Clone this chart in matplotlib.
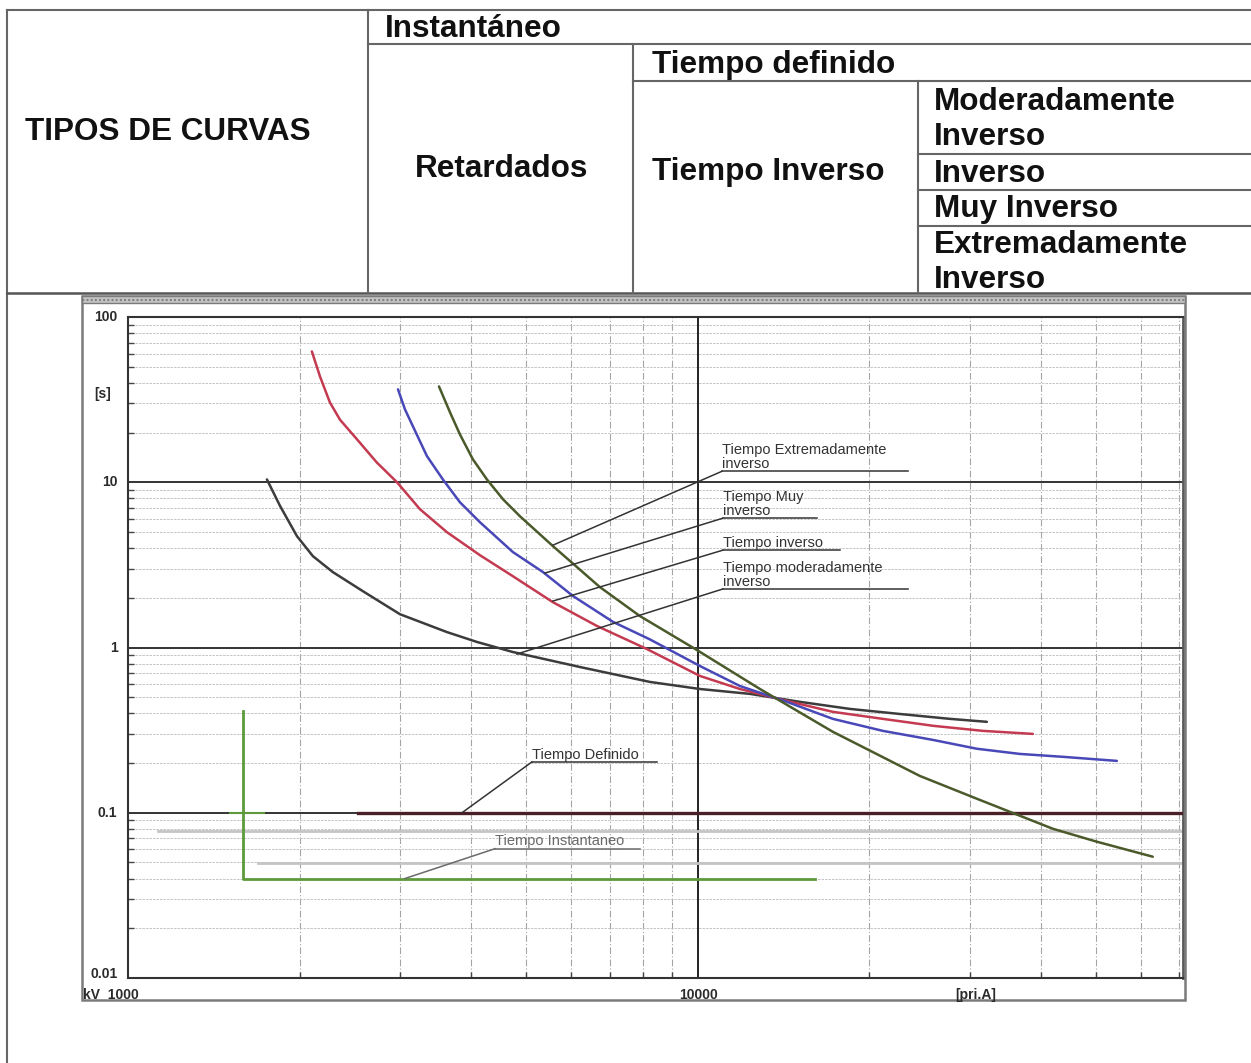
import matplotlib
matplotlib.use('Agg')
import matplotlib.pyplot as plt
from matplotlib.lines import Line2D
from matplotlib.patches import Rectangle
from matplotlib.ticker import LogLocator, NullFormatter, NullLocator

# ---------------- data ----------------
table_title = 'TIPOS DE CURVAS'
table_instant = 'Instantáneo'
table_delayed = 'Retardados'
table_definite = 'Tiempo definido'
table_inverse = 'Tiempo Inverso'
table_subtypes = ['Moderadamente\nInverso', 'Inverso', 'Muy Inverso', 'Extremadamente\nInverso']

y_tick_values = [100, 10, 1, 0.1, 0.01]
y_tick_labels = ['100', '10', '1', '0.1', '0.01']
y_unit = '[s]'
x_tick_values = [1000, 10000]
x_tick_labels = ['kV  1000', '10000']
x_unit = '[pri.A]'

# Tiempo moderadamente inverso (black)
mod_x = [1753, 1848, 1979, 2111, 2288, 2584, 3001, 3627, 4097, 4736, 6209, 8236, 10080, 12340, 15100, 18480, 22620, 27680, 32140]
mod_y = [10.4, 7.2, 4.72, 3.57, 2.86, 2.19, 1.59, 1.24, 1.08, 0.939, 0.762, 0.619, 0.561, 0.524, 0.469, 0.425, 0.396, 0.370, 0.355]

# Tiempo inverso (red)
inv_x = [2102, 2172, 2261, 2355, 2522, 2731, 2965, 3253, 3627, 4145, 4736, 5566, 6650, 8137, 10080, 11850, 14330, 17250, 21110, 25840, 31620, 38700]
inv_y = [61.9, 43.7, 30.4, 23.9, 18.2, 13.2, 10.0, 6.87, 4.99, 3.62, 2.70, 1.88, 1.35, 0.979, 0.673, 0.561, 0.475, 0.408, 0.370, 0.336, 0.313, 0.300]

# Tiempo muy inverso (blue)
muy_x = [2977, 3062, 3162, 3346, 3569, 3823, 4145, 4736, 5348, 6036, 7095, 8236, 10080, 11850, 14330, 17250, 21110, 25840, 30860, 36720, 43690, 54350]
muy_y = [36.5, 27.6, 21.8, 14.4, 10.4, 7.57, 5.73, 3.78, 2.86, 2.05, 1.43, 1.12, 0.773, 0.585, 0.469, 0.370, 0.313, 0.276, 0.244, 0.227, 0.218, 0.206]

# Tiempo extremadamente inverso (olive green)
ext_x = [3513, 3673, 3823, 4027, 4264, 4550, 4872, 5566, 6731, 7911, 9958, 12850, 17250, 24520, 30860, 41960, 50120, 62840]
ext_y = [38.0, 26.5, 19.5, 13.8, 10.4, 7.89, 6.23, 4.11, 2.32, 1.55, 0.966, 0.561, 0.309, 0.167, 0.1216, 0.080, 0.0668, 0.0542]

# Tiempo definido
def_x = [2532, 71000]
def_y = [0.1, 0.1]

# Tiempo instantaneo
inst_x = [1591, 1591, 16040]
inst_y = [0.41, 0.04, 0.04]
inst_mark_x = [1510, 1730]
inst_mark_y = [0.1, 0.1]

# light grey helper lines
grey_y = [0.0779, 0.0499]
grey_x0 = [1129, 1690]

# annotations
ann_labels = ['Tiempo Extremadamente\ninverso', 'Tiempo Muy\ninverso', 'Tiempo inverso',
              'Tiempo moderadamente\ninverso', 'Tiempo Definido', 'Tiempo Instantaneo']
ann_curve_x = [5566, 5390, 5566, 4814, 3855, 3062]
ann_curve_y = [4.16, 2.82, 1.91, 0.913, 0.1, 0.04]
ann_text_x = [11020, 11060, 11060, 11060, 5114, 4405]
ann_text_y = [11.65, 6.06, 3.88, 2.26, 0.203, 0.0606]
ann_line_end = [23360, 16180, 17750, 23360, 8472, 7912]
ann_colors = ['#333333', '#333333', '#333333', '#333333', '#333333', '#6a6a6a']

# ---------------- figure ----------------
W, H = 1251, 1063
fig = plt.figure(figsize=(W / 100, H / 100), dpi=100)
fig.patch.set_facecolor('white')

def fx(p):
    return p / W

def fy(p):
    return 1 - p / H

def fline(xs, ys, color='#666666', lw=1.5):
    fig.add_artist(Line2D([fx(x) for x in xs], [fy(y) for y in ys],
                          transform=fig.transFigure, color=color, lw=lw))

BOLD = dict(family=['Liberation Sans', 'DejaVu Sans'], fontweight='bold', color='#111111')

# table grid
fline([7, W], [10, 10])
fline([7, 7], [10, H])
fline([7, W], [293, 293], color='#555555', lw=1.8)
fline([368, 368], [10, 293])
fline([368, W], [44, 44])
fline([633, 633], [44, 293])
fline([633, W], [81, 81])
fline([918, 918], [81, 293])
for yy in [154, 190, 226]:
    fline([918, W], [yy, yy])

fs_tab = 22.7
fig.text(fx(25), fy(140), table_title, fontsize=22.7, va='baseline', ha='left', **BOLD)
fig.text(fx(385), fy(37), table_instant, fontsize=fs_tab, va='baseline', ha='left', **BOLD)
fig.text(fx(502), fy(177), table_delayed, fontsize=fs_tab, va='baseline', ha='center', **BOLD)
fig.text(fx(652), fy(73), table_definite, fontsize=fs_tab, va='baseline', ha='left', **BOLD)
fig.text(fx(652), fy(180), table_inverse, fontsize=fs_tab, va='baseline', ha='left', **BOLD)
sub_baselines = [110, 182, 217, 253]
for lab, yb in zip(table_subtypes, sub_baselines):
    lines = lab.split('\n')
    for i, ln in enumerate(lines):
        fig.text(fx(934), fy(yb + 35 * i), ln, fontsize=fs_tab, va='baseline', ha='left', **BOLD)

# chart frame
fig.add_artist(Rectangle((fx(82), fy(1000)), fx(1185) - fx(82), (1000 - 296) / H,
                         transform=fig.transFigure, fill=False, edgecolor='#7a7a7a', lw=1.8))
fig.add_artist(Rectangle((fx(82), fy(303)), fx(1185) - fx(82), 7 / H,
                         transform=fig.transFigure, facecolor='#c4c4c4', edgecolor='#7a7a7a',
                         lw=1.0, hatch='....'))

# axes
ax = fig.add_axes([fx(128), fy(978), (1183 - 128) / W, (978 - 317) / H])
ax.set_xscale('log')
ax.set_yscale('log')
ax.set_xlim(1000, 71000)
ax.set_ylim(0.01, 100)
ax.set_facecolor('white')

# grid
for d in [1000, 10000]:
    for k in range(2, 10):
        v = d * k
        if v < 71000:
            ax.axvline(v, color='#a5a5a5', lw=0.8, dashes=(6, 2, 1, 2), zorder=1)
ax.axvline(10000, color='#222222', lw=1.4, zorder=2)
for d in [0.01, 0.1, 1, 10]:
    for k in range(2, 10):
        ax.axhline(d * k, color='#bdbdbd', lw=0.6, dashes=(3, 1.2), zorder=1)
for v in [0.1, 1, 10]:
    ax.axhline(v, color='#333333', lw=1.4, zorder=2)

for gy, gx in zip(grey_y, grey_x0):
    ax.plot([gx, 71000], [gy, gy], color='#c4c4c4', lw=2.0, zorder=2)

# ticks
ax.xaxis.set_major_locator(NullLocator())
ax.yaxis.set_major_locator(NullLocator())
ax.xaxis.set_minor_locator(LogLocator(base=10, subs=range(2, 10)))
ax.yaxis.set_minor_locator(LogLocator(base=10, subs=range(2, 10)))
ax.xaxis.set_minor_formatter(NullFormatter())
ax.yaxis.set_minor_formatter(NullFormatter())
ax.tick_params(which='minor', direction='in', length=4, width=1.0, color='#444444',
               top=False, right=False)

for side in ['left', 'bottom', 'top']:
    ax.spines[side].set_color('#333333')
    ax.spines[side].set_linewidth(1.5)
ax.spines['right'].set_color('#5a5a5a')
ax.spines['right'].set_linewidth(2.0)

# curves
CK = dict(lw=1.8, solid_joinstyle='round', solid_capstyle='round')
ax.plot(mod_x, mod_y, color='#3c3c3c', zorder=5, **CK)
ax.plot(inv_x, inv_y, color='#c43a50', zorder=5, **CK)
ax.plot(muy_x, muy_y, color='#4848b8', zorder=5, **CK)
ax.plot(ext_x, ext_y, color='#4b5a2a', zorder=6, **CK)
ax.plot(def_x, def_y, color='#4a1f28', lw=2.4, zorder=4)
ax.plot(inst_x, inst_y, color='#5e9a3c', lw=2.0, zorder=4)
ax.plot(inst_mark_x, inst_mark_y, color='#5e9a3c', lw=1.5, zorder=4)

# annotations
TXT = dict(family=['Liberation Sans', 'DejaVu Sans'])
for lab, cx, cy, tx, ty, ex, col in zip(ann_labels, ann_curve_x, ann_curve_y, ann_text_x,
                                         ann_text_y, ann_line_end, ann_colors):
    ax.plot([cx, tx], [cy, ty], color=col, lw=1.1, zorder=7)
    ax.plot([tx, ex], [ty, ty], color=col, lw=1.1, zorder=7)
    ax.text(tx, ty * 1.005, lab, fontsize=10.5, ha='left', va='bottom', linespacing=0.95,
            color=col, zorder=8, **TXT)

# tick labels
LBL = dict(family=['Liberation Sans', 'DejaVu Sans'], fontweight='bold', color='#2a2a2a')
ytr = ax.get_yaxis_transform()
for v, lab in zip(y_tick_values, y_tick_labels):
    yy = v
    if v == 0.01:
        yy = v * 1.06
    ax.text(-0.010, yy, lab, transform=ytr, ha='right', va='center', fontsize=10, **LBL)
ax.text(-0.016, 34, y_unit, transform=ytr, ha='right', va='center', fontsize=10, **LBL)

fig.text(fx(83), fy(999), x_tick_labels[0], ha='left', va='baseline', fontsize=10, **LBL)
fig.text(fx(698), fy(999), x_tick_labels[1], ha='center', va='baseline', fontsize=10, **LBL)
fig.text(fx(955), fy(999), x_unit, ha='left', va='baseline', fontsize=10, **LBL)

fig.savefig('out.png', dpi=100, facecolor='white')
